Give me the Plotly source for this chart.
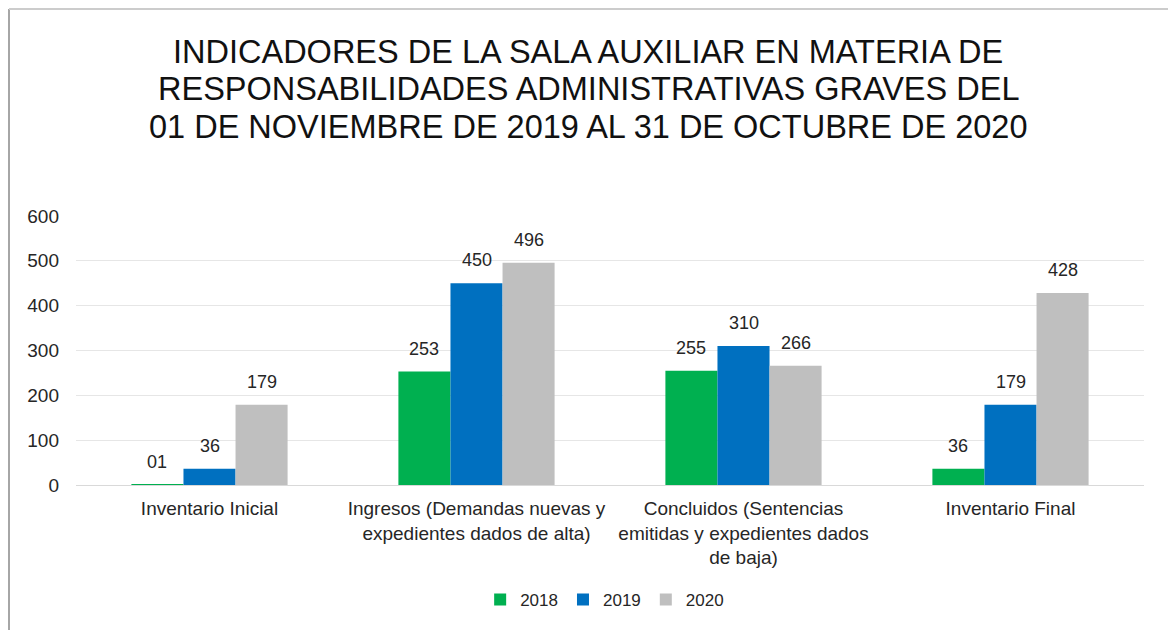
import plotly.graph_objects as go

categories = [
    "Inventario Inicial",
    "Ingresos (Demandas nuevas y<br>expedientes dados de alta)",
    "Concluidos (Sentencias<br>emitidas y expedientes dados<br>de baja)",
    "Inventario Final",
]
series_names = ["2018", "2019", "2020"]
values_2018 = [1, 253, 255, 36]
values_2019 = [36, 450, 310, 179]
values_2020 = [179, 496, 266, 428]
labels_2018 = ["01", "253", "255", "36"]
y_ticks = [0, 100, 200, 300, 400, 500, 600]
title_lines = [
    "INDICADORES DE LA SALA AUXILIAR EN MATERIA DE",
    "RESPONSABILIDADES ADMINISTRATIVAS GRAVES DEL",
    "01 DE NOVIEMBRE DE 2019 AL 31 DE OCTUBRE DE 2020",
]

colors = ["#00B050", "#0070C0", "#BFBFBF"]
all_values = [values_2018, values_2019, values_2020]
all_labels = [labels_2018, [str(v) for v in values_2019], [str(v) for v in values_2020]]

FONT = "Liberation Sans, Arial, sans-serif"
BARGAP = 0.415
n_series = len(series_names)
bar_w = (1 - BARGAP) / n_series

# page body has an 8px margin, so the figure is 8px smaller on each axis
W, H = 1168, 622
ML, MR, MT, MB = 68, 32, 208, 145
PW, PH = W - ML - MR, H - MT - MB

fig = go.Figure()
for name, vals, col in zip(series_names, all_values, colors):
    fig.add_trace(go.Bar(
        name=name, x=categories, y=vals,
        marker=dict(color=col, line=dict(width=0)),
    ))

annotations = []
for j, (vals, labs) in enumerate(zip(all_values, all_labels)):
    for i, (v, lab) in enumerate(zip(vals, labs)):
        annotations.append(dict(
            x=i + (j - (n_series - 1) / 2) * bar_w, y=v, xref="x", yref="y",
            text=lab, showarrow=False, yanchor="bottom", yshift=11,
            font=dict(family=FONT, size=18, color="#262626"),
        ))
title_px = [44, 81, 119]  # line centres from top of figure
title_cx = 580            # horizontal centre from left of figure
for line, py in zip(title_lines, title_px):
    annotations.append(dict(
        x=(title_cx - ML) / PW, xref="paper", y=(H - MB - py) / PH, yref="paper",
        text=line, showarrow=False, xanchor="center", yanchor="middle",
        font=dict(family=FONT, size=32.5, color="#111111"),
    ))

fig.update_layout(
    width=W, height=H,
    paper_bgcolor="white", plot_bgcolor="white",
    margin=dict(l=ML, r=MR, t=MT, b=MB, autoexpand=False),
    barmode="group", bargap=BARGAP, bargroupgap=0,
    font=dict(family=FONT, size=19, color="#262626"),
    xaxis=dict(showline=False, ticks="", tickfont=dict(size=19, color="#262626"),
               range=[-0.5, 3.5], automargin=False, ticklabelstandoff=10),
    yaxis=dict(range=[0, 600], tickvals=y_ticks, showgrid=True, gridcolor="#E6E6E6",
               gridwidth=1, zeroline=True, zerolinecolor="#D9D9D9", zerolinewidth=1,
               tickfont=dict(size=19, color="#262626"), ticklabelstandoff=16,
               automargin=False),
    legend=dict(orientation="h", x=0.495, xanchor="center",
                y=(H - MB - 592) / PH, yanchor="middle",
                font=dict(size=17, color="#262626"), traceorder="normal",
                itemwidth=30),
    showlegend=True,
    annotations=annotations,
    shapes=[
        dict(type="line", xref="paper", yref="paper",
             x0=(1 - ML) / PW, x1=(1 - ML) / PW, y0=(H - MB - 1) / PH, y1=-MB / PH,
             line=dict(color="#A6A6A6", width=2)),
        dict(type="line", xref="paper", yref="paper",
             x0=(1 - ML) / PW, x1=(W - ML) / PW, y0=(H - MB - 1) / PH, y1=(H - MB - 1) / PH,
             line=dict(color="#CCCCCC", width=2)),
    ],
)

fig.write_html("out.html")
